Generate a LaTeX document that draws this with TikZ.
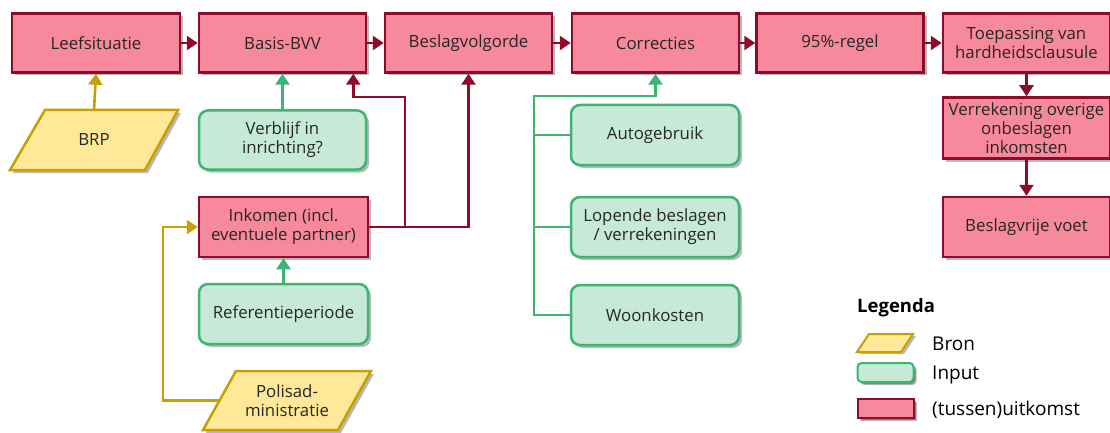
\documentclass[tikz,border=0pt]{standalone}
\usepackage{fontspec}
\setmainfont{Open Sans}
\usetikzlibrary{arrows.meta,shadows,positioning}
\definecolor{rfill}{HTML}{F7899D}
\definecolor{rdraw}{HTML}{8E0B2C}
\definecolor{gfill}{HTML}{C6EAD7}
\definecolor{gdraw}{HTML}{3DB473}
\definecolor{yfill}{HTML}{FFE897}
\definecolor{ydraw}{HTML}{C7A000}
\definecolor{txt}{HTML}{262626}
\tikzset{
  shad/.style={drop shadow={shadow xshift=3pt,shadow yshift=-3pt,fill=black,opacity=0.28}},
  base/.style={font=\fontsize{16.8}{19}\selectfont, text=txt, align=center, inner sep=1pt},
  redbox/.style={base, shad, draw=rdraw, fill=rfill, line width=2.5pt, minimum width=167pt, minimum height=59pt},
  greenbox/.style={base, shad, draw=gdraw, fill=gfill, line width=2.5pt, rounded corners=9pt, minimum width=167pt, minimum height=59pt},
  invbox/.style={base, minimum width=135pt, minimum height=59pt},
  parafill/.style={draw=ydraw, fill=yfill, line width=2.5pt, line join=miter},
  parashad/.style={fill=black, opacity=0.28},
  redline/.style={draw=rdraw, line width=2.6pt},
  redarrow/.style={redline, -{Triangle[width=14pt,length=11pt]}},
  greenline/.style={draw=gdraw, line width=2.6pt},
  greenarrow/.style={greenline, -{Triangle[width=14pt,length=11pt]}},
  yelarrow/.style={draw=ydraw, line width=2.6pt, -{Triangle[width=14pt,length=11pt]}},
  legtext/.style={font=\fontsize{19}{21}\selectfont, text=black, anchor=west, inner sep=0pt},
}
\begin{document}
\begin{tikzpicture}[x=1pt,y=-1pt]
\useasboundingbox (0,0) rectangle (1110,433);

% top row
\node[redbox, minimum width=168pt] (leef) at (96,43) {Leefsituatie};
\node[redbox] (basis) at (282.5,43) {Basis-BVV};
\node[redbox] (beslag) at (468.5,43) {Beslagvolgorde};
\node[redbox] (corr) at (655.5,43) {Correcties};
\node[redbox] (regel) at (840,43) {95\%-regel};
\node[redbox] (toep) at (1026.5,43) {Toepassing van\\hardheidsclausule};
\node[redbox, minimum height=61pt] (verr) at (1026.5,128) {Verrekening overige\\onbeslagen\\inkomsten};
\node[redbox, minimum height=60pt] (vrij) at (1026.5,227) {Beslagvrije voet};

% left column
\node[greenbox] (verbl) at (282.5,140) {Verblijf in\\inrichting?};
\node[redbox, minimum width=169pt, minimum height=60pt] (ink) at (283.5,227) {Inkomen (incl.\\eventuele partner)};
\node[greenbox, minimum width=169pt, minimum height=60pt] (ref) at (283.5,314) {Referentieperiode};

% correction inputs
\node[greenbox, minimum width=168pt, minimum height=60pt] (auto) at (655,135) {Autogebruik};
\node[greenbox, minimum width=168pt, minimum height=60pt] (lop) at (655,227) {Lopende beslagen\\/ verrekeningen};
\node[greenbox, minimum width=168pt, minimum height=60pt] (woon) at (655,315) {Woonkosten};

% parallelograms (sources)
\fill[parashad] (48,113) -- (181,113) -- (148,173) -- (13,173) -- cycle;
\path[parafill] (45,110) -- (178,110) -- (145,170) -- (10,170) -- cycle;
\node[invbox] (brp) at (94,140) {BRP};

\fill[parashad] (239,374) -- (374,374) -- (341,433) -- (206,433) -- cycle;
\path[parafill] (236,371) -- (371,371) -- (338,430) -- (203,430) -- cycle;
\node[invbox] (polis) at (287,400.5) {Polisad-\\ministratie};

% horizontal flow
\draw[redarrow] (leef) -- (basis);
\draw[redarrow] (basis) -- (beslag);
\draw[redarrow] (beslag) -- (corr);
\draw[redarrow] (corr) -- (regel);
\draw[redarrow] (regel) -- (toep);
\draw[redarrow] (toep) -- (verr);
\draw[redarrow] (verr) -- (vrij);

% inputs to boxes
\draw[yelarrow] (brp.north) -- (leef.south);
\draw[greenarrow] (verbl) -- (basis);
\draw[greenarrow] (ref) -- (ink);

\coordinate (rj) at (405,97);
\draw[redarrow] (ink.east) -| (rj) -| ([xshift=-14pt]basis.south east);
\draw[redarrow] (ink.east) -| (beslag.south);

\coordinate (gj) at (534,96);
\draw[greenline] (auto.west) -- (auto.west -| gj);
\draw[greenline] (lop.west) -- (lop.west -| gj);
\draw[greenarrow] (woon.west) -| (gj) -| (corr.south);

\coordinate (yj) at (163,227);
\draw[yelarrow] (polis.west) -| (yj) -- (ink.west);

% legend
\node[font=\bfseries\fontsize{18.5}{20}\selectfont, anchor=west, inner sep=0pt] (leg) at (857,308) {Legenda};
\fill[parashad] (872,336) -- (916,336) -- (904,354) -- (860,354) -- cycle;
\path[parafill, line width=2pt] (869,334) -- (913,334) -- (901,352) -- (857,352) -- cycle;
\node[legtext] (lbron) at (932,344) {Bron};
\node[greenbox, minimum width=56pt, minimum height=19pt, rounded corners=4pt, line width=2pt, inner sep=0pt, drop shadow={shadow xshift=2pt,shadow yshift=-2pt,fill=black,opacity=0.28}] (lin) at (885.5,372.5) {};
\node[legtext] (linput) at (932,375) {Input};
\node[redbox, minimum width=56pt, minimum height=19pt, line width=2pt, inner sep=0pt, drop shadow={shadow xshift=2pt,shadow yshift=-2pt,fill=black,opacity=0.28}] (lout) at (885.5,408) {};
\node[legtext] (luit) at (932,410) {(tussen)uitkomst};
\end{tikzpicture}
\end{document}
